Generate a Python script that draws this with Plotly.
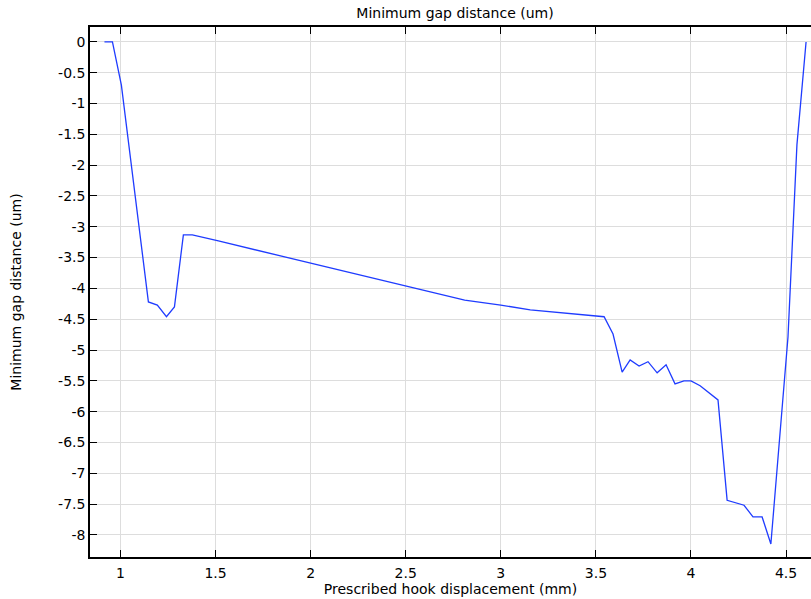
import plotly.graph_objects as go

displacement_mm = [0.916, 0.958, 1.005, 1.147, 1.194, 1.242, 1.284, 1.331, 1.378, 1.515,
                   2.81, 3.0, 3.155, 3.543, 3.59, 3.638, 3.68, 3.727, 3.774, 3.822,
                   3.869, 3.916, 3.963, 4.0, 4.048, 4.142, 4.19, 4.279, 4.326, 4.374,
                   4.42, 4.51, 4.557, 4.605]
gap_um = [0.0, 0.0, -0.70, -4.22, -4.27, -4.46, -4.30, -3.13, -3.13, -3.23,
          -4.19, -4.27, -4.35, -4.46, -4.74, -5.36, -5.16, -5.26, -5.19, -5.37,
          -5.24, -5.55, -5.50, -5.50, -5.58, -5.81, -7.44, -7.52, -7.71, -7.71,
          -8.15, -4.79, -1.67, 0.0]

x_ticks = [1, 1.5, 2, 2.5, 3, 3.5, 4, 4.5]
x_tick_labels = ["1", "1.5", "2", "2.5", "3", "3.5", "4", "4.5"]
y_ticks = [-i * 0.5 for i in range(17)]
y_tick_labels = ["0"] + [("%g" % v) for v in y_ticks[1:]]

fig = go.Figure()
fig.add_trace(go.Scatter(x=displacement_mm, y=gap_um, mode="lines",
                         line=dict(color="#1f3cff", width=1.3), showlegend=False))

fs = 14
font = dict(family="DejaVu Sans", size=fs, color="black")
fig.update_layout(
    width=811, height=599,
    margin=dict(l=90, r=0, t=27, b=42),
    paper_bgcolor="white", plot_bgcolor="white",
    font=font,
    title=dict(text="Minimum gap distance (um)", x=0.561, xanchor="center",
               y=0.978, yanchor="middle", font=dict(family="DejaVu Sans", size=fs)),
    xaxis=dict(range=[0.84, 4.631], tickvals=x_ticks, ticktext=x_tick_labels,
               showgrid=True, gridcolor="#dddddd", gridwidth=1,
               showline=True, linecolor="black", linewidth=1.5, mirror="ticks",
               ticks="inside", ticklen=7, tickcolor="black", zeroline=False,
               ticklabelstandoff=2, automargin=False,
               title=dict(text="Prescribed hook displacement (mm)", standoff=3,
                          font=dict(family="DejaVu Sans", size=fs))),
    yaxis=dict(range=[-8.36, 0.243], tickvals=y_ticks, ticktext=y_tick_labels,
               showgrid=True, gridcolor="#dddddd", gridwidth=1,
               showline=True, linecolor="black", linewidth=1.5, mirror=False,
               ticks="inside", ticklen=7, tickcolor="black", zeroline=False,
               automargin=False,
               title=dict(text="Minimum gap distance (um)", standoff=33,
                          font=dict(family="DejaVu Sans", size=fs))),
)

fig.write_html("out.html", config={"displayModeBar": False},
               post_script="document.body.style.margin='0';document.body.style.overflow='hidden';")
